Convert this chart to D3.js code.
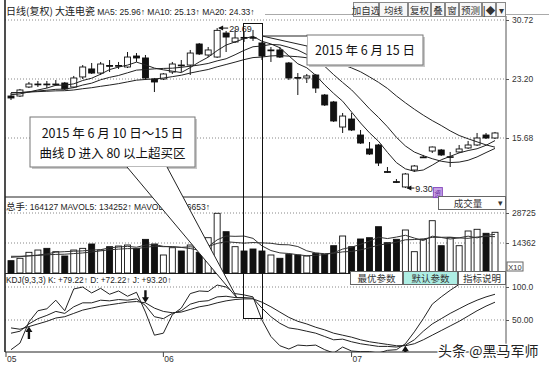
<!DOCTYPE html>
<html><head><meta charset="utf-8">
<script src="https://cdn.jsdelivr.net/npm/d3@7"></script>
<style>body{margin:0;background:#fff;}svg{display:block}</style>
</head><body><svg id="c" width="549" height="366"></svg>
<script>
// ---- data ----
const opens  = [21.03,21.03,22.18,22.50,22.56,22.50,22.69,22.18,23.46,24.48,23.96,24.92,24.86,24.73,26.13,25.88,23.20,23.20,24.09,24.98,24.98,27.66,26.26,26.00,29.06,27.92,28.50,28.50,27.79,26.85,26.90,25.24,23.40,23.33,23.71,21.16,20.27,17.08,18.10,16.06,14.28,14.79,11.40,10.12,9.44,11.60,13.20,14.02,14.15,13.26,13.90,14.41,14.79,16.06,15.68];
const highs  = [21.42,21.93,22.82,22.95,22.95,23.07,22.82,23.59,24.98,25.24,25.37,25.62,25.37,26.64,26.51,26.26,23.33,23.96,25.37,25.62,26.90,27.79,27.28,29.69,29.32,29.45,29.19,29.45,27.92,27.28,27.28,25.37,23.96,23.84,23.84,21.29,20.40,18.87,18.87,16.70,15.17,14.92,11.98,10.45,11.22,12.24,13.52,14.60,14.28,13.90,14.79,15.30,16.32,16.32,16.45];
const lows   = [20.52,20.91,22.05,22.18,22.05,22.31,21.80,22.05,23.20,23.84,23.71,24.09,24.48,24.60,25.37,23.07,21.54,23.07,23.84,24.09,23.71,26.26,26.00,25.88,26.64,27.79,27.92,28.05,25.62,25.37,25.88,23.07,21.16,22.69,21.42,19.76,17.72,16.32,16.57,14.92,13.52,12.11,11.22,9.94,9.30,11.35,13.13,13.77,13.39,11.98,13.77,14.28,14.66,15.55,15.55];
const closes = [20.78,21.80,22.56,22.56,22.50,22.56,21.93,23.33,24.73,23.96,25.11,24.86,24.92,26.00,25.88,23.33,22.82,23.84,25.11,24.92,26.51,26.39,26.90,29.40,28.55,28.43,28.43,28.43,26.13,26.90,26.00,23.33,23.33,23.59,22.05,19.89,17.85,18.48,16.70,15.04,13.64,12.49,11.35,10.07,11.09,12.11,13.26,14.53,13.52,13.30,14.28,14.79,15.68,15.68,16.32];
const ma5  = [21.20,21.30,21.55,21.80,22.04,22.40,22.42,22.58,23.01,23.30,23.81,24.40,24.72,24.97,25.35,25.00,24.59,24.37,24.20,24.02,24.65,25.37,25.98,26.82,27.53,27.92,28.34,28.65,28.01,27.67,27.18,26.15,25.14,24.63,23.67,22.45,21.36,20.37,18.99,17.59,16.34,15.27,13.85,12.54,11.75,11.44,11.60,12.22,12.90,13.34,13.78,14.08,14.31,14.75,15.35];
const ma10 = [21.43,21.46,21.56,21.67,21.77,21.88,21.92,22.10,22.43,22.67,23.10,23.41,23.65,23.99,24.33,24.41,24.49,24.55,24.58,24.69,24.83,24.98,25.18,25.51,25.78,26.29,26.85,27.31,27.41,27.60,27.55,27.24,26.89,26.32,25.67,24.82,23.75,22.76,21.81,20.63,19.40,18.31,17.11,15.77,14.67,13.89,13.43,13.04,12.72,12.55,12.61,12.84,13.27,13.82,14.35];
const ma20 = [21.46,21.48,21.53,21.59,21.64,21.69,21.71,21.80,21.96,22.09,22.27,22.43,22.61,22.83,23.05,23.14,23.21,23.32,23.50,23.68,23.96,24.19,24.41,24.75,25.05,25.35,25.67,25.93,26.00,26.14,26.19,26.11,26.04,25.91,25.72,25.55,25.30,25.03,24.61,24.12,23.47,22.78,22.00,21.04,20.17,19.35,18.59,17.90,17.27,16.59,16.00,15.58,15.19,14.80,14.51];
const volumes = [5900,7040,9900,11000,11800,10200,8140,11000,11800,13880,11000,12600,12900,13400,11800,16100,13880,8620,12100,10530,13400,9900,16900,28580,19770,12600,10530,11490,10530,8620,7040,8950,8620,8140,9430,8950,13070,17710,12590,16280,16900,22170,14510,16130,20590,10200,16130,25040,13070,16900,13070,20110,20920,19010,19490];
const mavol5  = [7500,7800,8200,8600,9130,9990,10210,10430,10590,11000,11160,12060,12440,12760,12340,13360,13620,12760,12500,12250,11710,10910,12570,15860,17710,17550,17680,16590,12980,10750,9640,9330,8750,8270,8440,8820,9640,11460,12350,13720,15310,17130,16490,17200,18060,16720,15510,17620,17010,16270,16840,17640,16810,18000,18520];
const mavol10 = [8000,8000,8200,8400,8700,8900,9000,9300,9600,10070,10580,11130,11430,11670,11670,12260,12840,12600,12630,12290,12530,12260,12660,14180,14980,14630,14290,14580,14420,14230,13600,13500,12670,10630,9600,9230,9480,10110,10310,11080,12060,13390,13980,14770,15890,16020,16320,17050,17100,17160,16780,16580,17220,17500,17390];
const kLine = [30,33,44,52,57,63,60,70,76,76,80,79,81,80,82,72,55,52,60,64,74,78,79.22,85,86,84,84,83,68,55,45,38,36,33,30,25,20,21,17,14,12,10,10,9,12,20,33,44,52,60,67,74,80,85,89];
const dLine = [38,36,40,44,48,53,55,60,65,68,71,73,75,77,78,76,68,63,61,62,66,70,72.22,76,79,81,82,82,77,70,62,54,48,44,39,35,30,27,24,20,17,15,13,11,11,14,20,27,34,41,48,56,64,71,77];
const jLine = [5,15,47,64,67,80,64,97,100,91,98,89,94,86,92,62,27,30,58,68,90,94,93.2,103,100,90,88,85,50,25,11,6,12,11,12,5,0,9,3,2,2,0,4,5,14,32,52,74,85,95,104,110,115,112,118];
const priceTicks = [30.72, 23.20, 15.68];
const volTicks = [28725, 14362];
const kdjTicks = [100, 50];
const monthLabels = ["05","06","07"];
const monthIndex = [0, 17, 38];
const crossIndex = [2, 15, 44];
const crossDir = ["up","down","up"];
const toolButtons = ["加自选","均线","复权","叠","窗","预测","|◆","▾"];
const kdjButtons = ["最优参数","默认参数","指标说明"];

// ---- layout ----
const svg = d3.select('#c');
const L = 5, R = 506;
const NUM = '"Liberation Sans", Arial, sans-serif';
const CJK = '"Noto Sans CJK SC", sans-serif';
const x  = d3.scaleLinear().domain([0, 54]).range([11, 495]);
const yP = d3.scaleLinear().domain([15.68, 30.72]).range([138, 20]);
const yV = d3.scaleLinear().domain([0, 28725]).range([273, 213]);
const yK = d3.scaleLinear().domain([0, 100]).range([353, 287]);
const idx = d3.range(opens.length);

const defs = svg.append('defs');
defs.append('clipPath').attr('id','cm').append('rect').attr('x',L).attr('y',16).attr('width',R-L).attr('height',181);
defs.append('clipPath').attr('id','ck').append('rect').attr('x',L).attr('y',284).attr('width',R-L).attr('height',68);

// grid
function dotted(y){ svg.append('line').attr('x1',L).attr('x2',R).attr('y1',y).attr('y2',y)
  .attr('stroke','#888').attr('stroke-dasharray','1,2'); }
priceTicks.forEach(v=>dotted(yP(v)));
volTicks.forEach(v=>dotted(yV(v)));
kdjTicks.forEach(v=>dotted(yK(v)));

// frame
const fr = svg.append('g').attr('stroke','#222');
fr.append('line').attr('x1',L).attr('x2',L).attr('y1',0).attr('y2',352).attr('stroke-width',1.6);
fr.append('line').attr('x1',R).attr('x2',R).attr('y1',16).attr('y2',352).attr('stroke','#555');
fr.append('line').attr('x1',L).attr('x2',R).attr('y1',197).attr('y2',197);
fr.append('line').attr('x1',L).attr('x2',R).attr('y1',273.5).attr('y2',273.5);
fr.append('line').attr('x1',L).attr('x2',R).attr('y1',352).attr('y2',352);
svg.append('line').attr('x1',265).attr('x2',549).attr('y1',14.5).attr('y2',14.5).attr('stroke','#aaa');

// candles
const gm = svg.append('g').attr('clip-path','url(#cm)');
gm.selectAll('line.w').data(idx).join('line')
  .attr('x1',i=>x(i)).attr('x2',i=>x(i)).attr('y1',i=>yP(highs[i])).attr('y2',i=>yP(lows[i]))
  .attr('stroke','#111');
gm.selectAll('rect.b').data(idx).join('rect')
  .attr('x',i=>x(i)-3).attr('width',6)
  .attr('y',i=>yP(Math.max(opens[i],closes[i])))
  .attr('height',i=>Math.max(0.8,Math.abs(yP(opens[i])-yP(closes[i]))))
  .attr('fill',i=>closes[i]<opens[i]?'#111':'#fff').attr('stroke','#111').attr('stroke-width',0.9);
const lineP = d3.line().x((d,i)=>x(i)).y(d=>yP(d));
[ma5,ma10,ma20].forEach(a=>gm.append('path').attr('d',lineP(a)).attr('fill','none').attr('stroke','#222').attr('stroke-width',1));

// high / low markers
const hi = 23, lo = 44;
gm.append('line').attr('x1',x(hi)+2).attr('x2',x(hi)+11).attr('y1',yP(highs[hi])).attr('y2',yP(highs[hi])).attr('stroke','#111');
gm.append('path').attr('d',`M${x(hi)+1},${yP(highs[hi])}l5,-2.5v5z`).attr('fill','#111');
svg.append('text').attr('x',x(hi)+12).attr('y',yP(highs[hi])+3.5).text(highs[hi].toFixed(2))
  .attr('font-family',NUM).attr('font-size',9).attr('fill','#222');
gm.append('line').attr('x1',x(lo)+2).attr('x2',x(lo)+9).attr('y1',yP(lows[lo])).attr('y2',yP(lows[lo])).attr('stroke','#111');
gm.append('path').attr('d',`M${x(lo)+1},${yP(lows[lo])}l5,-2.5v5z`).attr('fill','#111');
svg.append('text').attr('x',x(lo)+10).attr('y',yP(lows[lo])+3.5).text(lows[lo].toFixed(2))
  .attr('font-family',NUM).attr('font-size',9).attr('fill','#222');
svg.append('rect').attr('x',x(lo)+28).attr('y',yP(lows[lo])-0.5).attr('width',9).attr('height',10)
  .attr('fill','#c7a3e6').attr('stroke','#8a4fc0');
svg.append('text').attr('x',x(lo)+32.5).attr('y',yP(lows[lo])+7.5).attr('text-anchor','middle').text('资')
  .attr('font-family',CJK).attr('font-size',7).attr('fill','#6a2aa0');

// volume
svg.selectAll('rect.v').data(idx).join('rect')
  .attr('x',i=>x(i)-3).attr('width',6).attr('y',i=>yV(volumes[i])).attr('height',i=>yV(0)-yV(volumes[i]))
  .attr('fill',i=>closes[i]<opens[i]?'#111':'#fff').attr('stroke','#111').attr('stroke-width',0.9);
const lineV = d3.line().x((d,i)=>x(i)).y(d=>yV(d));
[mavol5,mavol10].forEach(a=>svg.append('path').attr('d',lineV(a)).attr('fill','none').attr('stroke','#333').attr('stroke-width',1));

// KDJ
const gk = svg.append('g').attr('clip-path','url(#ck)');
const lineK = d3.line().x((d,i)=>x(i)).y(d=>yK(d));
[jLine,kLine,dLine].forEach(a=>gk.append('path').attr('d',lineK(a)).attr('fill','none').attr('stroke','#222').attr('stroke-width',1));
crossIndex.forEach((ci,k)=>{
  const cx = x(ci), ty = yK(dLine[ci]);
  const p = crossDir[k]==='up'
    ? `M${cx},${ty}l-3.5,5.5h2.3v7h2.4v-7h2.3z`
    : `M${cx},${ty}l-3.5,-5.5h2.3v-7h2.4v7h2.3z`;
  gk.append('path').attr('d',p).attr('fill','#111');
});

// axes
const axP = svg.append('g').attr('transform',`translate(${R},0)`)
  .call(d3.axisRight(yP).tickValues(priceTicks).tickFormat(d3.format('.2f')).tickSize(3));
const axV = svg.append('g').attr('transform',`translate(${R},0)`)
  .call(d3.axisRight(yV).tickValues(volTicks).tickFormat(d3.format('d')).tickSize(3));
const axK = svg.append('g').attr('transform',`translate(${R},0)`)
  .call(d3.axisRight(yK).tickValues(kdjTicks).tickFormat(d=>d>=100?d.toFixed(1):d.toFixed(2)).tickSize(3));
[axP,axV,axK].forEach(a=>{ a.select('.domain').remove();
  a.selectAll('text').attr('font-family',NUM).attr('font-size',8.5).attr('fill','#333');
  a.selectAll('line').attr('stroke','#555'); });
svg.append('rect').attr('x',507).attr('y',262).attr('width',16).attr('height',9).attr('fill','#fff').attr('stroke','#666');
svg.append('text').attr('x',515).attr('y',269.5).attr('text-anchor','middle').text('X10')
  .attr('font-family',NUM).attr('font-size',7.5).attr('fill','#333');

// month axis
monthIndex.forEach((mi,k)=>{
  const mx = k===0 ? L+1 : x(mi);
  svg.append('line').attr('x1',mx).attr('x2',mx).attr('y1',352).attr('y2',357).attr('stroke','#444');
  svg.append('text').attr('x',mx+1).attr('y',362).text(monthLabels[k])
    .attr('font-family',NUM).attr('font-size',8.5).attr('fill','#333');
});

// headers
const h1 = svg.append('text').attr('x',6).attr('y',15).attr('fill','#222');
h1.append('tspan').attr('font-family',CJK).attr('font-size',10).text('日线(复权)  大连电瓷 ');
h1.append('tspan').attr('font-family',NUM).attr('font-size',8.5).text('MA5: 25.96↑ MA10: 25.13↑ MA20: 24.33↑');
const h2 = svg.append('text').attr('x',6).attr('y',210).attr('fill','#222');
h2.append('tspan').attr('font-family',CJK).attr('font-size',9.5).text('总手');
h2.append('tspan').attr('font-family',NUM).attr('font-size',8.5).text(': 164127  MAVOL5: 134252↑  MAVOL10: 126653↑');
svg.append('text').attr('x',6).attr('y',283).attr('fill','#222').attr('font-family',NUM).attr('font-size',8.3)
  .text('KDJ(9,3,3) K: +79.22↑ D: +72.22↑ J: +93.20↑');

// toolbar buttons
const tbX = [353,379,408,431,445,459,482,496,506];
toolButtons.forEach((t,k)=>{
  svg.append('rect').attr('x',tbX[k]+0.5).attr('y',2.5).attr('width',tbX[k+1]-tbX[k]-1).attr('height',14)
    .attr('fill','#f7f7f7').attr('stroke','#888');
  svg.append('text').attr('x',(tbX[k]+tbX[k+1])/2).attr('y',13.5).attr('text-anchor','middle').text(t)
    .attr('font-family',CJK).attr('font-size',9.5).attr('fill','#333').attr('font-weight',t==='|◆'?'bold':'normal');
});
svg.append('rect').attr('x',438.5).attr('y',196.5).attr('width',67).attr('height',13).attr('fill','#fff').attr('stroke','#666');
svg.append('text').attr('x',468).attr('y',207).attr('text-anchor','middle').text('成交量')
  .attr('font-family',CJK).attr('font-size',9.5).attr('fill','#333');
svg.append('text').attr('x',500).attr('y',206).attr('text-anchor','middle').text('▾')
  .attr('font-family',NUM).attr('font-size',9).attr('fill','#333');
const kbX = [350,403,458,506];
kdjButtons.forEach((t,k)=>{
  svg.append('rect').attr('x',kbX[k]+0.5).attr('y',271.5).attr('width',kbX[k+1]-kbX[k]-1).attr('height',13)
    .attr('fill',k===1?'#aeeee4':'#fff').attr('stroke','#666');
  svg.append('text').attr('x',(kbX[k]+kbX[k+1])/2).attr('y',282).attr('text-anchor','middle').text(t)
    .attr('font-family',CJK).attr('font-size',9.5).attr('fill','#333');
});

// highlight rectangle
svg.append('rect').attr('x',243.5).attr('y',23.5).attr('width',19).attr('height',295).attr('fill','none').attr('stroke','#111');

// callouts
function callout(bx,by,bw,bh,tail,lines,ty){
  svg.append('rect').attr('x',bx+2).attr('y',by+2).attr('width',bw).attr('height',bh).attr('fill','#c8c8c8');
  svg.append('rect').attr('x',bx).attr('y',by).attr('width',bw).attr('height',bh).attr('fill','#fff').attr('stroke','#777');
  svg.append('path').attr('d',`M${tail[0][0]},${tail[0][1]}L${tail[1][0]},${tail[1][1]}L${tail[2][0]},${tail[2][1]}Z`).attr('fill','#fff');
  svg.append('path').attr('d',`M${tail[0][0]},${tail[0][1]}L${tail[1][0]},${tail[1][1]}L${tail[2][0]},${tail[2][1]}`)
    .attr('fill','none').attr('stroke','#222');
  lines.forEach((s,k)=>svg.append('text').attr('x',bx+bw/2).attr('y',ty[k]).attr('text-anchor','middle').text(s)
    .attr('font-family',CJK).attr('font-size',12.5).attr('fill','#111'));
}
callout(30,117,165,50,[[127,167],[237,298],[167,167]],['2015 年 6 月 10 日～15 日','曲线 D 进入 80 以上超买区'],[138,158]);
callout(307,35,116,30,[[307,36],[262,36],[307,46]],['2015 年 6 月 15 日'],[55]);

// watermark
svg.append('text').attr('x',438).attr('y',356).text('头条 @黑马军师')
  .attr('font-family',CJK).attr('font-size',14).attr('fill','#222')
  .attr('stroke','#fff').attr('stroke-width',2.5).attr('paint-order','stroke');
</script></body></html>
